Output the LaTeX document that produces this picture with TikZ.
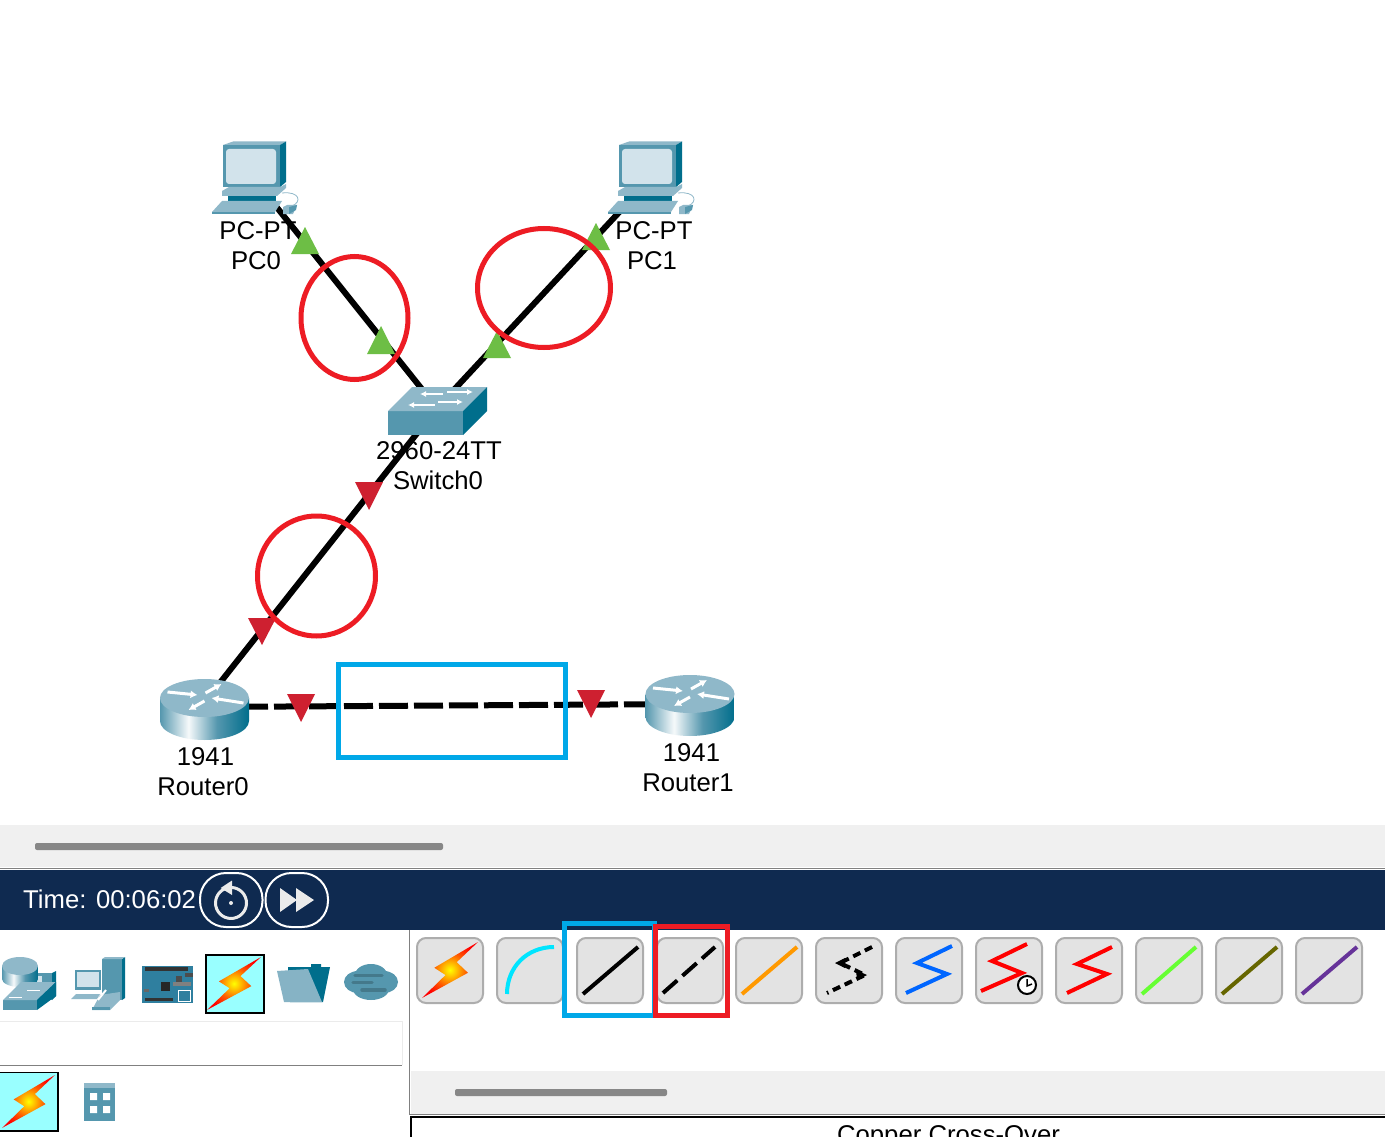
\documentclass[tikz,border=0pt]{standalone}
\usepackage{fontspec}
\setmainfont{Liberation Sans}
\usetikzlibrary{arrows.meta,shapes.geometric}
\definecolor{navy}{HTML}{0F2A50}
\definecolor{tealmid}{HTML}{5597AE}
\definecolor{teallight}{HTML}{8FB8C9}
\definecolor{tealdark}{HTML}{006E8C}
\definecolor{screenc}{HTML}{D2E3EB}
\definecolor{panelg}{HTML}{F0F0F0}
\definecolor{markred}{HTML}{ED1C24}
\definecolor{markblue}{HTML}{00A8E8}
\definecolor{upgreen}{HTML}{6DBE45}
\definecolor{downred}{HTML}{CE2030}
\definecolor{selcyan}{HTML}{99FFFF}
\definecolor{boardc}{HTML}{2F7F9F}
\pgfdeclarehorizontalshading{routerbody}{100bp}{color(0bp)=(tealmid); color(25bp)=(tealmid); color(41bp)=(white!92!teallight); color(57bp)=(tealmid); color(75bp)=(tealdark); color(100bp)=(tealdark)}
\pgfdeclareradialshading{boltglow}{\pgfpoint{0bp}{0bp}}{color(0bp)=(yellow); color(7bp)=(yellow!40!orange); color(15bp)=(orange!70!red); color(26bp)=(red); color(50bp)=(red)}
\tikzset{
  link/.style={line width=6pt,black},
  dashlink/.style={link,dash pattern=on 29pt off 6pt},
  lbl/.style={font=\fontsize{25.7}{30}\selectfont,anchor=base,inner sep=0pt,text=black},
  ring/.style={draw=markred,line width=5pt,ellipse,inner sep=0pt},
  upmark/.style={fill=upgreen},
  downmark/.style={fill=downred},
  tool/.style={draw=black!32,line width=2pt,fill=black!11,rounded corners=9pt},
  stroke/.style={line width=4pt},
  uiarrow/.style={white,line width=1.8pt,-{Latex[length=6pt,width=6pt]}},
  rtarrow/.style={white,line width=3pt,-{Latex[length=7pt,width=8pt]}},
  ctl/.style={draw=white,line width=2pt,rounded corners=26pt},
}
% lightning bolt in a unit box
\newcommand{\boltshape}[4]{%
  \begin{scope}[shift={(#1,#2)},xscale=#3,yscale=#4]
    \shade[shading=boltglow]
      (1,0) -- (0.22,0.46) -- (0.42,0.59) -- (0,1) -- (0.82,0.55) -- (0.62,0.36) -- cycle;
  \end{scope}}
% router icon centred on the top disc
\newcommand{\routericon}[2]{%
  \begin{scope}[shift={(#1,#2)}]
    \shade[shading=routerbody] (-44.5,0) -- (-44.5,23) arc[start angle=180,end angle=0,x radius=44.5,y radius=19] -- (44.5,0) -- cycle;
    \fill[teallight] (0,0) ellipse[x radius=44.5,y radius=19];
    \draw[rtarrow] (-37,-6) -- (-7,-3);
    \draw[rtarrow] (39,5) -- (7,0);
    \draw[rtarrow] (1,-5) -- (17,-14);
    \draw[rtarrow] (0,3) -- (-16,12);
  \end{scope}}
% PC icon, offset from PC0
\newcommand{\pcicon}[1]{%
  \begin{scope}[xshift=#1]
    \draw[teallight,line width=.8pt] (282,193) .. controls (300,191) and (302,202) .. (292,206);
    \fill[tealmid] (223,145) rectangle (280,187);
    \fill[teallight] (223,145) -- (233,141.5) -- (286,141.5) -- (280,145) -- cycle;
    \fill[tealdark] (280,145) -- (286,141.5) -- (286,182) -- (280,187) -- cycle;
    \fill[screenc,rounded corners=3pt] (226,149) rectangle (276,184);
    \fill[tealdark] (228,194) rectangle (276,201);
    \fill[teallight] (222,191) -- (229,187) -- (280,187) -- (286,184) -- (286,188) -- (277,196) -- (222,196) -- cycle;
    \fill[teallight] (212,212) -- (222,201) -- (282,201) -- (275,212) -- cycle;
    \fill[tealmid] (212,212) rectangle (275,214);
    \fill[teallight] (283,207) -- (287,205) -- (297,205) -- (293,214) -- (283,214) -- cycle;
    \fill[tealmid] (289,207) -- (297,205) -- (296,210) -- (289,214) -- cycle;
  \end{scope}}
\begin{document}
\begin{tikzpicture}[x=1pt,y=-1pt]
\useasboundingbox (0,0) rectangle (1385,1137);
\fill[white] (0,0) rectangle (1385,1137);
\begin{scope}
\clip (0,0) rectangle (1385,1137);

% anchors of the devices
\node[coordinate] (pc0) at (255,180) {};
\node[coordinate] (pc1) at (651,178) {};
\node[coordinate] (sw) at (437,408) {};
\node[coordinate] (r0) at (204,703) {};
\node[coordinate] (r1) at (690,704) {};
\node[coordinate] (r0e) at (204,707) {};

% connectors
\draw[link] (pc0) -- (sw);
\draw[link] (pc1) -- (sw);
\draw[link] (sw) -- (r0);
\draw[dashlink] (r0e) -- (r1);

% devices
\pcicon{0pt}
\pcicon{396pt}
\fill[tealmid] (388,411) rectangle (463,435);
\fill[teallight] (388,411) -- (463,411) -- (487,387) -- (412,387) -- cycle;
\fill[tealdark] (463,411) -- (487,387) -- (487,411) -- (463,435) -- cycle;
\draw[uiarrow] (443,394) -- (420,394);
\draw[uiarrow] (447,392) -- (473,392);
\draw[uiarrow] (435,405) -- (408,405);
\draw[uiarrow] (438,402) -- (463,402);
\routericon{204.5}{698}
\routericon{690}{694}

% link lights
\fill[upmark] (305,227) -- (319,254) -- (291,254) -- cycle;
\fill[upmark] (381,326) -- (395,354) -- (367,354) -- cycle;
\fill[upmark] (596,223) -- (610,250) -- (582,250) -- cycle;
\fill[upmark] (497,331) -- (511,358) -- (483,358) -- cycle;
\fill[downmark] (355,482) -- (383,482) -- (369,510) -- cycle;
\fill[downmark] (248,618) -- (276,618) -- (262,645) -- cycle;
\fill[downmark] (287,694) -- (315,694) -- (301,722) -- cycle;
\fill[downmark] (577,690) -- (605,690) -- (591,718) -- cycle;

% labels
\node[lbl] (l1) at (258,239) {PC-PT};
\node[lbl] (l2) at (256,269) {PC0};
\node[lbl] (l3) at (654,239) {PC-PT};
\node[lbl] (l4) at (652,269) {PC1};
\node[lbl] (l5) at (439,459) {2960-24TT};
\node[lbl] (l6) at (438,489) {Switch0};
\node[lbl] (l7) at (205.5,765) {1941};
\node[lbl] (l8) at (203,795) {Router0};
\node[lbl] (l9) at (691.5,761) {1941};
\node[lbl] (l10) at (688,791) {Router1};

% annotation marks
\node[ring,minimum width=107pt,minimum height=123pt] (c1) at (354.5,318) {};
\node[ring,minimum width=133pt,minimum height=119pt] (c2) at (544,288) {};
\node[ring,minimum width=118pt,minimum height=120pt] (c3) at (316.5,576) {};
\draw[markblue,line width=5pt] (338.5,664.5) rectangle (565,757);

% lower panels
\fill[panelg] (0,825) rectangle (1385,867);
\fill[black!47,rounded corners=2pt] (35,843) rectangle (443,850);
\draw[black!50,line width=1pt] (0,868) -- (1385,868);
\fill[navy] (0,870) rectangle (1385,930);
\node[lbl,text=white,anchor=base west] (time) at (23,908) {Time: 00:06:02};
\draw[ctl] (200,873) rectangle (262.5,927);
\draw[ctl] (265.5,873) rectangle (328,927);
\draw[white!92!black,line width=3pt] (225.2,888.6) arc[start angle=-112,end angle=248,radius=15.5];
\fill[white!92!black] (232,880.5) -- (232,895) -- (220.7,888) -- cycle;
\fill[white!92!black] (231,903) circle (2pt);
\fill[white!92!black] (280,888) -- (297,900) -- (280,912) -- cycle;
\fill[white!92!black] (296,888) -- (314,900) -- (296,912) -- cycle;

% side panel
\fill[white] (0,1021) rectangle (402,1065);
\draw[black!8,line width=1pt] (0,1021) -- (402,1021) -- (402,1065);
\draw[black!50,line width=1pt] (0,1065) -- (402,1065);
\draw[black!50,line width=1pt] (409.5,930) -- (409.5,1115);
\fill[panelg] (411,1071) rectangle (1385,1113.5);
\fill[black!47,rounded corners=2pt] (455,1089) rectangle (667,1096);
\draw[black!50,line width=1pt] (410,1114.5) -- (1385,1114.5);
\draw[black,line width=2.5pt] (411,1137) -- (411,1117) -- (1385,1117);
\node[lbl,anchor=base] (ctype) at (948.5,1143) {Copper Cross-Over};

% category icons: router and switch
\fill[tealmid] (25,973) rectangle (52,1000);
\fill[tealdark] (52,973) -- (56,971) -- (56,996) -- (52,1000) -- cycle;
\fill[screenc] (28,976) rectangle (42,992);
\shade[shading=routerbody] (2,966) -- (2,979) arc[start angle=180,end angle=0,x radius=18,y radius=8] -- (38,966) -- cycle;
\fill[teallight] (20,966) ellipse[x radius=18,y radius=9];
\fill[tealmid] (3,1000) rectangle (37,1010);
\fill[teallight] (3,1000) -- (37,1000) -- (56,982) -- (21,982) -- cycle;
\fill[tealdark] (37,1000) -- (56,982) -- (56,996) -- (37,1010) -- cycle;
\draw[white,line width=1pt] (9,997) -- (22,997) (27,990) -- (40,990);
% end devices
\fill[tealmid] (102,959) rectangle (122,1000);
\fill[tealdark] (122,959) -- (125,957) -- (125,998) -- (122,1000) -- cycle;
\fill[teallight] (102,959) -- (105,957) -- (125,957) -- (122,959) -- cycle;
\fill[tealmid] (75,970) rectangle (101,990);
\fill[screenc] (77,972) rectangle (99,987);
\fill[teallight] (71,999) -- (76,994) -- (100,994) -- (97,999) -- cycle;
\fill[teallight] (92,1010) -- (100,995) -- (120,992) -- (120,1000) -- (110,1010) -- cycle;
\fill[tealmid] (92,1007) rectangle (110,1010);
\draw[white,line width=2pt] (98,1000) -- (106,990);
% board
\fill[boardc] (142,966) rectangle (193,1003);
\fill[black!80] (145,967) rectangle (188,971);
\fill[black!80] (145,998) rectangle (173,1001);
\fill[black!85] (161,982) rectangle (170,991);
\fill[black!70] (185,973) rectangle (193,977);
\fill[black!70] (176,976) rectangle (182,982);
\fill[black!50] (173,982) rectangle (191,986);
\fill[black!60] (144,989) rectangle (149,992);
\draw[white,line width=.8pt] (178,990) rectangle (190,1001);
% connections selected
\fill[selcyan,draw=black,line width=1.5pt] (206,955) rectangle (264,1013);
\boltshape{207}{957}{54}{53}
% misc
\fill[tealdark] (288,967) -- (311,967) -- (311,964) -- (321,964) -- (321,967) -- (330,967) -- (323,1002) -- (290,1002) -- cycle;
\fill[teallight!85!tealmid] (277,971) -- (308,969) -- (322,1002) -- (284,1002) -- cycle;
% cloud
\fill[tealmid] (358,982) ellipse[x radius=14,y radius=11];
\fill[tealmid] (384,982) ellipse[x radius=14,y radius=11];
\fill[tealmid] (371,975) ellipse[x radius=16,y radius=11];
\fill[tealmid] (371,989) ellipse[x radius=18,y radius=11];
\draw[black!20!tealmid,line width=3.5pt,line cap=round] (355,975.5) -- (382,975.5) (353,982.5) -- (372,982.5) (362,990) -- (385,990);
% second row
\fill[selcyan,draw=black,line width=1.5pt] (-2,1072.5) rectangle (58,1131);
\boltshape{2}{1075}{53}{53}
\fill[tealmid] (84,1083) rectangle (115,1121);
\fill[teallight] (84,1083) rectangle (115,1088);
\fill[white] (90,1093) rectangle (97,1100) (103,1093) rectangle (110,1100) (90,1106) rectangle (97,1113) (103,1106) rectangle (110,1113);

% tool buttons
\foreach \bx in {417,497,577,657,736,816,896,976,1056,1136,1216,1296}
  \draw[tool] (\bx,938) rectangle ++(66,65);
% markers around two buttons
\draw[markblue,line width=5pt] (564.5,923.5) rectangle (654,1015);
\draw[markred,line width=5pt] (655.5,926.5) rectangle (727.5,1015);
\boltshape{422}{942}{56}{56}
\draw[stroke,color={rgb,255:red,0;green,229;blue,255}] (507,994) .. controls (507,967) and (527,947) .. (554,947);
\draw[stroke,black] (583,994) -- (638,947);
\draw[stroke,black,dash pattern=on 19pt off 7pt] (663,993) -- (715,947);
\draw[stroke,color={rgb,255:red,255;green,153;blue,0}] (742,994) -- (797,947);
\draw[stroke,black,dash pattern=on 8pt off 5pt] (872,947) -- (840,963) -- (865,975) -- (827,993);
\fill[black] (835,963) -- (845,958) -- (845,968) -- cycle;
\fill[black] (867,975) -- (856,970) -- (857,980) -- cycle;
\draw[stroke,color={rgb,255:red,0;green,102;blue,255}] (952,946) -- (917,963) -- (947,974) -- (906,993);
\draw[stroke,red] (1027,944) -- (992,961) -- (1022,973) -- (981,991);
\draw[black,line width=2pt,fill=white] (1027,985) circle (9);
\draw[black,line width=1.5pt] (1027,979) -- (1027,986) -- (1032,984);
\draw[stroke,red] (1112,947) -- (1077,964) -- (1107,974) -- (1067,993);
\draw[stroke,color={rgb,255:red,102;green,255;blue,51}] (1196,947) -- (1142,994);
\draw[stroke,color={rgb,255:red,102;green,102;blue,0}] (1277,947) -- (1222,994);
\draw[stroke,color={rgb,255:red,102;green,51;blue,153}] (1357,947) -- (1302,994);
\end{scope}
\end{tikzpicture}
\end{document}
